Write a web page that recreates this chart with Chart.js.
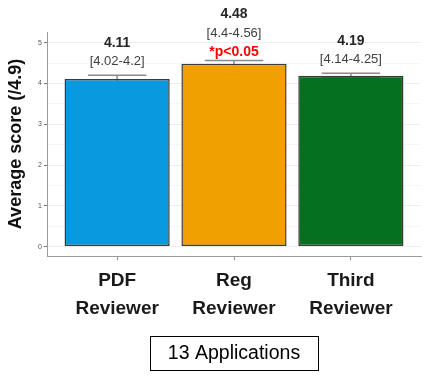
<!DOCTYPE html>
<html>
<head>
<meta charset="utf-8">
<script src="https://cdn.jsdelivr.net/npm/chart.js@4/dist/chart.umd.min.js"></script>
<style>
  html, body { margin: 0; padding: 0; background: #ffffff; }
  #wrap { width: 432px; height: 380px; position: relative; }
</style>
</head>
<body>
<div id="wrap"><canvas id="c" width="432" height="380"></canvas></div>
<script>
// ---- data ----
const categories = [["PDF", "Reviewer"], ["Reg", "Reviewer"], ["Third", "Reviewer"]];
const means = [4.11, 4.48, 4.19];
const ciLow = [4.02, 4.4, 4.14];
const ciHigh = [4.2, 4.56, 4.25];
const valueLabels = ["4.11", "4.48", "4.19"];
const ciLabels = ["[4.02-4.2]", "[4.4-4.56]", "[4.14-4.25]"];
const sigLabels = ["", "*p<0.05", ""];
const yTicks = [0, 1, 2, 3, 4, 5];
const yTitle = "Average score (/4.9)";
const caption = "13 Applications";

const fills = ["#0899DE", "#F0A000", "#05711F"];
const borders = ["#3a3a3a", "#3a3a3a", "#3a3a3a"];

const errorBars = {
  id: 'errorBars',
  beforeDatasetsDraw(chart) {
    const ctx = chart.ctx, xs = chart.scales.x, ys = chart.scales.y;
    const half = (xs.getPixelForValue(1) - xs.getPixelForValue(0)) * 0.25;
    ctx.save();
    ctx.strokeStyle = '#8a8a8a';
    ctx.lineWidth = 1.5;
    means.forEach((m, i) => {
      const x = xs.getPixelForValue(i);
      const yh = ys.getPixelForValue(ciHigh[i]);
      const yl = ys.getPixelForValue(ciLow[i]);
      ctx.beginPath();
      ctx.moveTo(x, yl); ctx.lineTo(x, yh);
      ctx.moveTo(x - half, yh); ctx.lineTo(x + half, yh);
      ctx.moveTo(x - half, yl); ctx.lineTo(x + half, yl);
      ctx.stroke();
    });
    ctx.restore();
  },
  afterDatasetsDraw(chart) {
    const ctx = chart.ctx, xs = chart.scales.x, ys = chart.scales.y;
    ctx.save();
    ctx.textAlign = 'center';
    ctx.textBaseline = 'middle';
    means.forEach((m, i) => {
      const x = xs.getPixelForValue(i);
      const yh = ys.getPixelForValue(ciHigh[i]);
      let y;
      if (sigLabels[i]) {
        y = yh - 8.5;
        ctx.fillStyle = '#ff0000';
        ctx.font = 'bold 14px "Liberation Sans", Arial, sans-serif';
        ctx.fillText(sigLabels[i], x, y);
        y -= 19;
      } else {
        y = yh - 13.5;
      }
      ctx.fillStyle = '#404040';
      ctx.font = '13px "Liberation Sans", Arial, sans-serif';
      ctx.fillText(ciLabels[i], x, y);
      y -= 18.5;
      ctx.fillStyle = '#262626';
      ctx.font = 'bold 14px "Liberation Sans", Arial, sans-serif';
      ctx.fillText(valueLabels[i], x, y);
    });
    ctx.restore();
  },
  afterDraw(chart) {
    const ctx = chart.ctx, xs = chart.scales.x;
    const cx = (xs.left + xs.right) / 2;
    const cy = chart.height - 27;
    const w = 168, h = 34;
    ctx.save();
    ctx.strokeStyle = '#000';
    ctx.lineWidth = 1;
    ctx.strokeRect(Math.round(cx - w / 2) + 0.5, Math.round(cy - h / 2) + 0.5, w, h);
    ctx.fillStyle = '#000';
    ctx.font = '19.5px "Liberation Sans", Arial, sans-serif';
    ctx.textAlign = 'center';
    ctx.textBaseline = 'middle';
    ctx.fillText(caption, cx, cy + 1);
    ctx.restore();
  }
};

const gridTicks = [];
for (let i = 0; i < yTicks.length; i++) {
  gridTicks.push(yTicks[i]);
  if (i < yTicks.length - 1) gridTicks.push((yTicks[i] + yTicks[i + 1]) / 2);
}

new Chart(document.getElementById('c'), {
  type: 'bar',
  data: {
    datasets: [{
      data: means.map((v, i) => ({ x: i, y: v })),
      backgroundColor: fills,
      borderColor: borders,
      borderWidth: 1.5,
      borderSkipped: false,
      barPercentage: 0.9,
      categoryPercentage: 1.0
    }]
  },
  options: {
    responsive: false,
    animation: false,
    devicePixelRatio: 1,
    layout: { padding: { top: 32, right: 11, left: 0, bottom: 0 } },
    plugins: { legend: { display: false }, tooltip: { enabled: false } },
    scales: {
      x: {
        type: 'linear',
        offset: false,
        min: -0.6,
        max: 2.6,
        afterBuildTicks(scale) { scale.ticks = categories.map((c, i) => ({ value: i })); },
        afterFit(scale) { scale.height = 124; },
        ticks: {
          callback: (v) => categories[v],
          font: { family: '"Liberation Sans", Arial, sans-serif', size: 19, weight: 'bold', lineHeight: 1.45 },
          color: '#1a1a1a',
          padding: 7,
          maxRotation: 0,
          autoSkip: false
        },
        grid: { offset: false, drawOnChartArea: false, tickLength: 4, color: '#8c8c8c' },
        border: { color: '#9a9a9a', width: 1 }
      },
      y: {
        min: -0.23,
        max: 5.26,
        afterBuildTicks(scale) { scale.ticks = gridTicks.map(v => ({ value: v })); },
        afterFit(scale) { scale.width = 47; },
        ticks: {
          callback: (v) => (yTicks.includes(v) ? String(v) : ''),
          font: { family: '"Liberation Sans", Arial, sans-serif', size: 7 },
          color: '#555',
          padding: 2,
          autoSkip: false
        },
        grid: {
          color: (c) => (yTicks.includes(c.tick && c.tick.value) ? '#ededed' : '#f6f6f6'),
          tickColor: (c) => (yTicks.includes(c.tick && c.tick.value) ? '#777' : 'rgba(0,0,0,0)'),
          tickLength: 3,
          lineWidth: 1
        },
        border: { color: '#9a9a9a', width: 1 },
        title: {
          display: true,
          text: yTitle,
          font: { family: '"Liberation Sans", Arial, sans-serif', size: 18, weight: 'bold' },
          color: '#111',
          padding: { top: 5, bottom: 0 }
        }
      }
    }
  },
  plugins: [errorBars]
});
</script>
</body>
</html>
